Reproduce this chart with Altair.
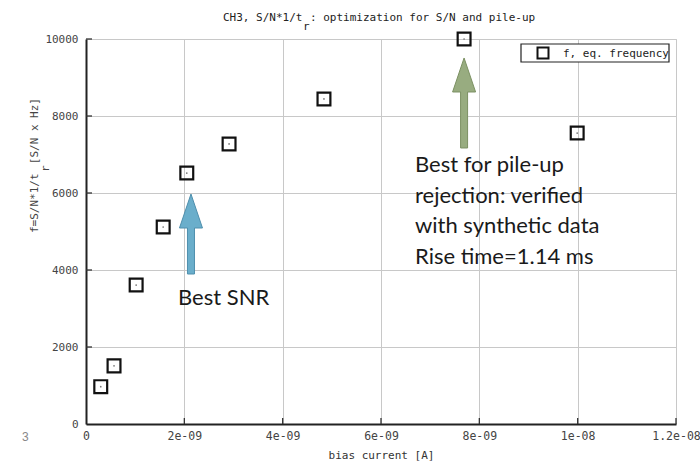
import altair as alt
import pandas as pd

# Measured equivalent frequency versus bias current (CH3)
bias_current = [0.30e-9, 0.57e-9, 1.02e-9, 1.57e-9, 2.05e-9, 2.91e-9, 4.84e-9, 7.69e-9, 9.99e-9]
eq_frequency = [970, 1510, 3610, 5117, 6519, 7273, 8442, 10000, 7558]

x_ticks = [0, 2e-9, 4e-9, 6e-9, 8e-9, 1e-8, 1.2e-8]
x_tick_labels = ["0", "2e-09", "4e-09", "6e-09", "8e-09", "1e-08", "1.2e-08"]
y_ticks = [0, 2000, 4000, 6000, 8000, 10000]

# Arrow annotations: x position, vertical centre, total length in px
arrow_x = [2.135e-9, 7.69e-9]
arrow_y = [4935, 8338]
arrow_len = [80, 90]

W, H = 590, 385
MONO = "DejaVu Sans Mono"
NOTE_FONT = "Lato"

df = pd.DataFrame({"current": bias_current, "freq": eq_frequency})

label_js = "[" + ",".join(f"'{t}'" for t in x_tick_labels) + "]"
x_scale = alt.Scale(domain=[0, 1.2e-8], nice=False, zero=False)
y_scale = alt.Scale(domain=[0, 10000], nice=False)

x_enc = alt.X(
    "current:Q", scale=x_scale,
    axis=alt.Axis(
        values=x_ticks, labelExpr=f"{label_js}[round(datum.value/2e-9)]",
        grid=True, gridColor="#c8c8c8", gridWidth=1,
        domainColor="#222", domainWidth=2, ticks=False,
        labelFont=MONO, labelFontSize=11.5, labelColor="#444", labelPadding=6,
        title="bias current [A]", titleFont=MONO, titleFontSize=11,
        titleFontWeight="normal", titleColor="#333", titlePadding=8,
        labelFlush=False,
    ),
)
y_enc = alt.Y(
    "freq:Q", scale=y_scale,
    axis=alt.Axis(
        values=y_ticks, format="d",
        grid=True, gridColor="#c8c8c8", gridWidth=1,
        domainColor="#222", domainWidth=2, ticks=False,
        labelFont=MONO, labelFontSize=11, labelColor="#444", labelPadding=8,
        title=None,
    ),
)

squares = alt.Chart(df).mark_point(
    shape="square", filled=False, stroke="#111", strokeWidth=2.2, size=165, opacity=1
).encode(x=x_enc, y=y_enc)

dots = alt.Chart(df).mark_point(
    shape="circle", filled=True, color="#777", size=3, opacity=1
).encode(x="current:Q", y="freq:Q")

# inward tick marks on the bottom and left axes
xt = pd.DataFrame({"t": x_ticks[1:]})
x_ticks_in = alt.Chart(xt).mark_rule(color="#333", strokeWidth=1.3).encode(
    x="t:Q", y=alt.value(H), y2=alt.value(H - 6)
)
yt = pd.DataFrame({"t": y_ticks[1:]})
y_ticks_in = alt.Chart(yt).mark_rule(color="#333", strokeWidth=1.3).encode(
    y="t:Q", x=alt.value(0), x2=alt.value(6)
)


def arrow_path(total, head_len=34, head_half=11.5, shaft_half=3.5):
    s = total / 2
    hb = -1 + head_len / s
    hh = head_half / s
    sh = shaft_half / s
    return (f"M0,-1 L{hh:.4f},{hb:.4f} L{sh:.4f},{hb:.4f} L{sh:.4f},1 "
            f"L{-sh:.4f},1 L{-sh:.4f},{hb:.4f} L{-hh:.4f},{hb:.4f} Z")


arrow_colors = [("#6aaecb", "#4f8fad"), ("#98ac80", "#7c9163")]
arrows = []
for ax, ay, al, (fc, sc) in zip(arrow_x, arrow_y, arrow_len, arrow_colors):
    arrows.append(
        alt.Chart(pd.DataFrame({"current": [ax], "freq": [ay]})).mark_point(
            shape=arrow_path(al), filled=True, fill=fc, stroke=sc,
            strokeWidth=1, size=al * al, opacity=1,
        ).encode(x="current:Q", y="freq:Q")
    )


def text_layer(txt, x, y, font=MONO, size=11, color="#222", align="left",
               baseline="alphabetic", angle=0, **kw):
    return alt.Chart(pd.DataFrame({"txt": [txt]})).mark_text(
        font=font, fontSize=size, color=color, align=align,
        baseline=baseline, angle=angle, **kw
    ).encode(text="txt:N", x=alt.value(x), y=alt.value(y))


notes = [
    text_layer("Best SNR", 92, 266, font=NOTE_FONT, size=22, color="#1a1a1a"),
    text_layer("Best for pile-up\nrejection: verified\nwith synthetic data\nRise time=1.14 ms",
               329, 133, font=NOTE_FONT, size=22, color="#1a1a1a",
               lineBreak="\n", lineHeight=30.5),
]

# title with subscript r
title = [
    text_layer("CH3, S/N*1/t", 137, -18, color="#222"),
    text_layer("r", 217, -9, color="#222"),
    text_layer(": optimization for S/N and pile-up", 224, -18, color="#222"),
]

# y axis title with subscript r (rotated)
ytitle = [
    text_layer("f=S/N*1/t", -51, 194, color="#444", angle=270, baseline="middle"),
    text_layer("r", -40, 133, color="#444", angle=270, baseline="middle"),
    text_layer("[S/N x Hz]", -51, 59, color="#444", angle=270, baseline="middle",
               align="right"),
]

# legend box
legend_box = alt.Chart(pd.DataFrame({"k": [0]})).mark_rect(
    fill="white", stroke="#222", strokeWidth=1.2
).encode(x=alt.value(435), x2=alt.value(583), y=alt.value(5), y2=alt.value(23))
legend_sym = alt.Chart(pd.DataFrame({"k": [0]})).mark_point(
    shape="square", filled=False, stroke="#111", strokeWidth=2, size=121, opacity=1
).encode(x=alt.value(457), y=alt.value(14))
legend_txt = text_layer("f, eq. frequency", 477, 18, color="#222")

page_no = text_layer("3", -64, 402, font="Liberation Sans", size=12, color="#888")

chart = alt.layer(
    squares, dots, x_ticks_in, y_ticks_in, *arrows, *notes, *title, *ytitle,
    legend_box, legend_sym, legend_txt, page_no,
).properties(
    width=W, height=H,
    autosize=alt.AutoSizeParams(type="none"),
    padding={"left": 86, "top": 39, "right": 24, "bottom": 44},
    background="white",
).configure_view(stroke="#c8c8c8")

chart.save("out.html", embed_options={"renderer": "svg", "actions": False})
